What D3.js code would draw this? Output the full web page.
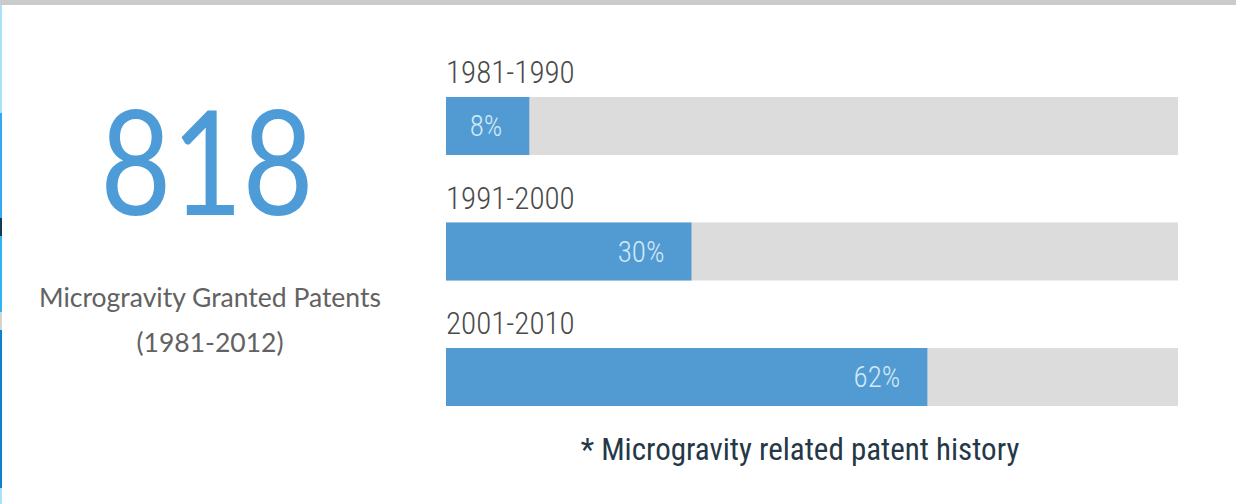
<!DOCTYPE html>
<html>
<head>
<meta charset="utf-8">
<script src="https://cdn.jsdelivr.net/npm/d3@7"></script>
<style>
  html, body { margin: 0; padding: 0; background: #fff; }
  svg { display: block; }
</style>
</head>
<body>
<svg id="chart" width="1236" height="504"></svg>
<script>
const periods = ["1981-1990", "1991-2000", "2001-2010"];
const shares = [8, 30, 62];
const totalPatents = 818;
const totalLabel = ["Microgravity Granted Patents", "(1981-2012)"];
const footnote = "* Microgravity related patent history";

const width = 1236;
const height = 504;
const narrow = "'Roboto Condensed', 'Liberation Sans Narrow', Roboto, sans-serif";

const svg = d3.select("#chart");

// page chrome: grey strip on top, coloured stripe on the left
svg.append("rect")
  .attr("x", 0).attr("y", 0)
  .attr("width", width).attr("height", 5)
  .attr("fill", "#cbcbcb");

const stripe = [
  [5, 113, "#a9e1f9"],
  [113, 218, "#2eaaf2"],
  [218, 236, "#173a52"],
  [236, 312, "#31b2f4"],
  [312, 330, "#d2d2d2"],
  [330, 488, "#0f7fcf"],
  [488, 504, "#a9e1f9"]
];
svg.append("g").selectAll("rect")
  .data(stripe)
  .join("rect")
  .attr("x", 0)
  .attr("y", d => d[0])
  .attr("width", 2)
  .attr("height", d => d[1] - d[0])
  .attr("fill", d => d[2]);

// big number block
const left = svg.append("g");

left.append("text")
  .attr("transform", "translate(207,215) scale(0.84,1)")
  .attr("text-anchor", "middle")
  .attr("font-family", "Lato, 'Open Sans', sans-serif")
  .attr("font-size", 146)
  .attr("fill", "#4d9cd7")
  .text(totalPatents);

left.selectAll("text.sub")
  .data(totalLabel)
  .join("text")
  .attr("class", "sub")
  .attr("x", 210)
  .attr("y", (d, i) => 307 + i * 45)
  .attr("text-anchor", "middle")
  .attr("font-family", "Lato, 'Open Sans', sans-serif")
  .attr("font-size", 26.5)
  .attr("fill", "#626262")
  .text(d => d);

// bars
const x0 = 446, barW = 732, barH = 58;

const y = d3.scaleBand()
  .domain(periods)
  .range([97, 97 + 125.5 * periods.length])
  .paddingInner(0);

// the drawn bars run a little longer than their printed share
const x = d3.scaleLinear()
  .domain([-3.3, 96])
  .range([0, barW]);

const rows = svg.append("g")
  .selectAll("g")
  .data(periods.map((p, i) => ({ period: p, share: shares[i] })))
  .join("g")
  .attr("transform", d => `translate(${x0},${y(d.period)})`);

rows.append("rect")
  .attr("width", barW)
  .attr("height", barH)
  .attr("fill", "#dcdcdc");

rows.append("rect")
  .attr("width", d => x(d.share))
  .attr("height", barH)
  .attr("fill", "#529bd2");

rows.append("text")
  .attr("x", 0)
  .attr("y", -14)
  .attr("font-family", narrow)
  .attr("font-weight", 300)
  .attr("font-size", 31)
  .attr("fill", "#4a4a4a")
  .text(d => d.period);

rows.append("text")
  .attr("x", d => x(d.share) - 27)
  .attr("y", barH / 2 + 10)
  .attr("text-anchor", "end")
  .attr("font-family", narrow)
  .attr("font-weight", 300)
  .attr("font-size", 29)
  .attr("fill", "#d3e9f8")
  .text(d => d.share + "%");

svg.append("text")
  .attr("x", 800)
  .attr("y", 460)
  .attr("text-anchor", "middle")
  .attr("font-family", narrow)
  .attr("font-size", 31)
  .attr("fill", "#263847")
  .text(footnote);
</script>
</body>
</html>
